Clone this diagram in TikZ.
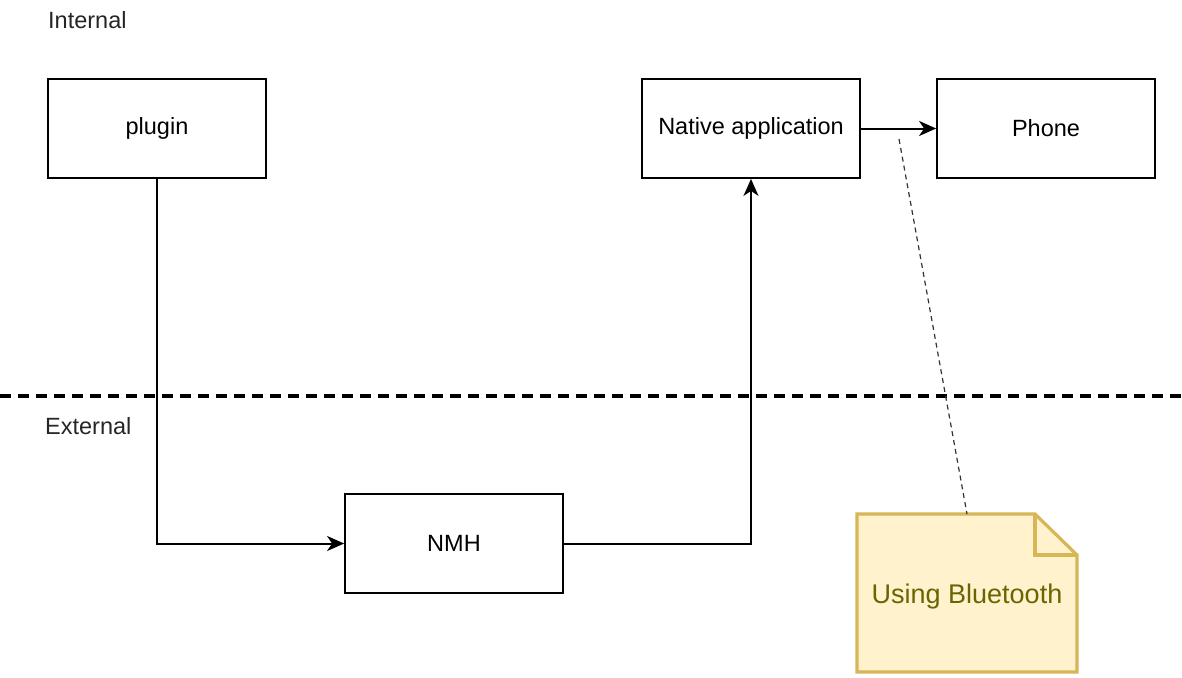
\documentclass[tikz,border=0pt]{standalone}
\usepackage{fontspec}
\setmainfont{Liberation Sans}
\usetikzlibrary{arrows.meta}
\definecolor{notefill}{HTML}{FFF2CC}
\definecolor{notedraw}{HTML}{D6B656}
\definecolor{notetext}{HTML}{6B6400}
\begin{document}
\begin{tikzpicture}[x=1pt,y=-1pt,
  box/.style={draw=black,line width=1.8pt,minimum width=218pt,minimum height=99pt,inner sep=0pt,font=\fontsize{23.5}{28}\selectfont},
  conn/.style={line width=2pt,-{Stealth[length=17pt,width=15pt,inset=5pt]}},
  lbl/.style={anchor=west,inner sep=0pt,font=\fontsize{23.5}{28}\selectfont,text=black!85}]
\useasboundingbox (0,0) rectangle (1182,677);
\node[box] (plugin) at (157,128.5) {plugin};
\node[box] (native) at (751,128.5) {Native application};
\node[box] (phone) at (1046,128.5) {Phone};
\node[box] (nmh) at (454,543.5) {NMH};
\node[lbl] (internal) at (48,20) {Internal};
\node[lbl] (external) at (45,426) {External};
\coordinate (sepL) at (0,396);
\coordinate (sepR) at (1182,396);
\draw[line width=3.2pt,dash pattern=on 11pt off 7pt] (sepL) -- (sepR);
\draw[conn] (plugin.south) |- (nmh.west);
\draw[conn] (nmh.east) -| (native.south);
\draw[conn] (native.east) -- (phone.west);
% note
\coordinate (nA) at (857,514);
\coordinate (nB) at (1035,514);
\coordinate (nC) at (1077,555);
\coordinate (nD) at (1077,672);
\coordinate (nE) at (857,672);
\draw[notedraw,fill=notefill,line width=3.2pt,line join=miter] (nA) -- (nB) -- (nC) -- (nD) -- (nE) -- cycle;
\draw[notedraw,line width=3.2pt] (nB) -- (1035,555) -- (nC);
\node[inner sep=0pt,text=notetext,font=\fontsize{27}{32}\selectfont] (note) at (967,597) {Using Bluetooth};
\coordinate (noteTop) at (967,514);
\coordinate (linkEnd) at (899,139);
\draw[line width=1.2pt,dash pattern=on 5pt off 4pt,black!80] (linkEnd) -- (noteTop);
\end{tikzpicture}
\end{document}
